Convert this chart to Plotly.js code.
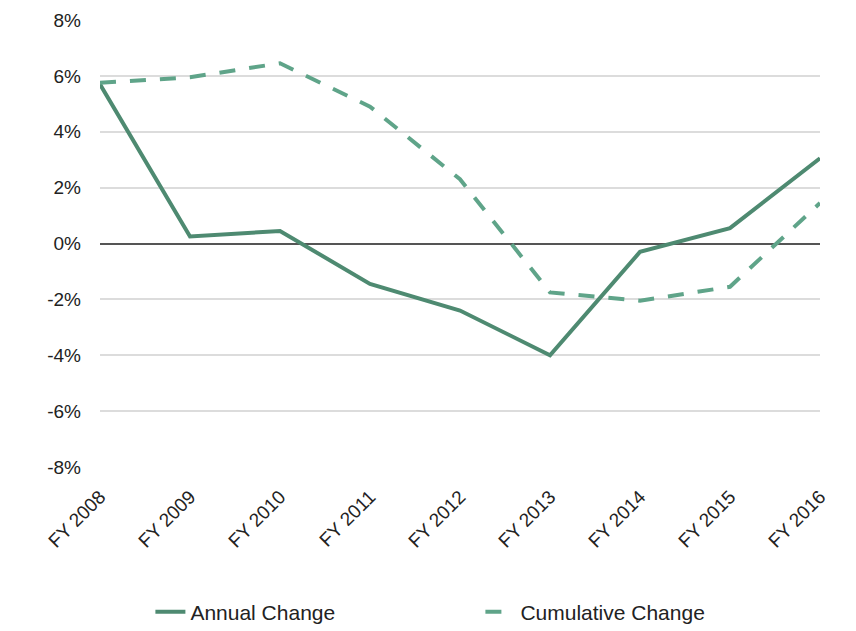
<!DOCTYPE html>
<html><head><meta charset="utf-8">
<script src="https://cdn.plot.ly/plotly-3.0.1.min.js"></script>
<style>body{margin:0;background:#fff}#chart{width:856px;height:631px}</style>
</head><body><div id="chart"></div>
<script>
var years = ["FY 2008","FY 2009","FY 2010","FY 2011","FY 2012","FY 2013","FY 2014","FY 2015","FY 2016"];
var annualChange = [5.7, 0.25, 0.45, -1.45, -2.4, -4.0, -0.3, 0.55, 3.05];
var cumulativeChange = [5.75, 5.95, 6.45, 4.9, 2.3, -1.75, -2.05, -1.55, 1.45];
var yTickVals = [-8,-6,-4,-2,0,2,4,6,8];
var yTickText = ["-8%","-6%","-4%","-2%","0%","2%","4%","6%","8%"];

var fontFam = "'Liberation Sans Narrow', 'Liberation Sans', Arial, sans-serif";
var traces = [
  {x: years, y: annualChange, name: "Annual Change", type: "scatter", mode: "lines",
   line: {color: "#4e8a71", width: 4}},
  {x: years, y: cumulativeChange, name: "Cumulative Change", type: "scatter", mode: "lines",
   line: {color: "#5fa489", width: 4, dash: "16px,14px"}}
];
var layout = {
  width: 856, height: 631,
  margin: {l: 100, r: 36, t: 20, b: 164},
  paper_bgcolor: "#fff", plot_bgcolor: "#fff",
  font: {family: fontFam, size: 19, color: "#222"},
  showlegend: true,
  legend: {orientation: "h", xref: "paper", x: 0.07, xanchor: "left",
           yref: "container", y: 0.03, yanchor: "middle", entrywidth: 285,
           font: {family: fontFam, size: 21, color: "#222"}, traceorder: "normal"},
  xaxis: {type: "category", range: [0, 8], showgrid: false, zeroline: false, showline: false,
          automargin: false, ticks: "", tickangle: -45, ticklabelstandoff: 14,
          tickfont: {family: fontFam, size: 19, color: "#222"}},
  yaxis: {range: [-8, 8], tickvals: yTickVals, ticktext: yTickText, showgrid: true,
          automargin: false, ticklabelstandoff: 18,
          gridcolor: "#dcdcdc", gridwidth: 2, zeroline: true, zerolinecolor: "#555",
          zerolinewidth: 2, showline: false, ticks: "", ticklen: 0,
          tickfont: {family: fontFam, size: 19, color: "#222"}}
};
Plotly.newPlot("chart", traces, layout, {displayModeBar: false, staticPlot: true});
</script></body></html>
